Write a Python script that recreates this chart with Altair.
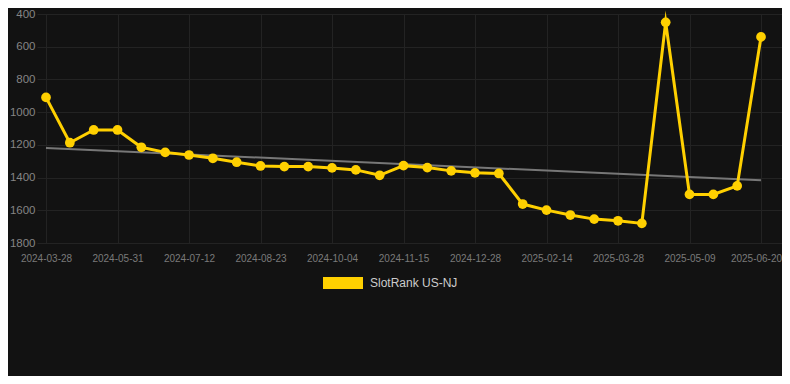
import altair as alt
import pandas as pd

dates = [
    "2024-03-28", "2024-04-19", "2024-05-10", "2024-05-31", "2024-06-14",
    "2024-06-28", "2024-07-12", "2024-07-26", "2024-08-09", "2024-08-23",
    "2024-09-06", "2024-09-20", "2024-10-04", "2024-10-18", "2024-11-01",
    "2024-11-15", "2024-11-29", "2024-12-13", "2024-12-28", "2025-01-17",
    "2025-01-31", "2025-02-14", "2025-02-28", "2025-03-14", "2025-03-28",
    "2025-04-11", "2025-04-25", "2025-05-09", "2025-05-23", "2025-06-06",
    "2025-06-20",
]
ranks = [
    910, 1187, 1109, 1109, 1215, 1246, 1262, 1282, 1306, 1329,
    1333, 1333, 1341, 1353, 1386, 1327, 1339, 1359, 1371, 1375,
    1562, 1599, 1629, 1654, 1664, 1680, 451, 1503, 1503, 1451,
    540,
]
trend_idx = [0, 30]
trend_vals = [1219, 1416]
y_ticks = [400, 600, 800, 1000, 1200, 1400, 1600, 1800]
x_ticks = [0, 3, 6, 9, 12, 15, 18, 21, 24, 27, 30]
series_name = "SlotRank US-NJ"

df = pd.DataFrame({"idx": list(range(len(ranks))), "date": dates, "rank": ranks,
                   "series": series_name})
tdf = pd.DataFrame({"idx": trend_idx, "rank": trend_vals})

label_expr = "[" + ",".join("'" + d + "'" for d in dates) + "][datum.value]"

x_enc = alt.X(
    "idx:Q",
    scale=alt.Scale(domain=[-0.378, 30.881], nice=False, zero=False),
    axis=alt.Axis(values=x_ticks, labelExpr=label_expr, title=None, ticks=False,
                  domain=False, labelFontSize=10, labelColor="#7a7a7a",
                  labelPadding=10, gridColor="#232323", labelOverlap=False,
                  labelOffset={"condition": {"test": "datum.value == 30", "value": -5},
                               "value": 0}),
)
y_enc = alt.Y(
    "rank:Q",
    scale=alt.Scale(domain=[400, 1800], reverse=True, nice=False, zero=False),
    axis=alt.Axis(values=y_ticks, format="d", title=None, ticks=False, domain=False,
                  labelFontSize=11.5, labelColor="#858585", labelPadding=2,
                  gridColor="#232323"),
)

trend = alt.Chart(tdf).mark_line(color="#777777", strokeWidth=2).encode(
    x=x_enc, y=y_enc)

line = alt.Chart(df).mark_line(color="#FFD000", strokeWidth=3, strokeJoin="miter",
                               strokeMiterLimit=10).encode(x=x_enc, y=y_enc)

pts = alt.Chart(df).mark_point(filled=True, size=95, opacity=1).encode(
    x=x_enc, y=y_enc,
    color=alt.Color("series:N", scale=alt.Scale(range=["#FFD000"]),
                    legend=alt.Legend(title=None, orient="none", legendX=286,
                                      legendY=249, symbolType="M-1,-0.3H1V0.3H-1Z",
                                      symbolSize=1600, symbolStrokeWidth=0,
                                      symbolOpacity=1, labelFontSize=12,
                                      labelColor="#cccccc", labelOffset=7,
                                      padding=0)),
)

chart = alt.layer(trend, line, pts).properties(
    width=745, height=229,
    autosize=alt.AutoSizeParams(type="none"),
    padding={"left": 29, "top": 6, "right": 0, "bottom": 133},
    background="#121212",
).configure(font="Liberation Sans").configure_view(stroke=None)

chart.save("out.html", embed_options={"renderer": "svg", "actions": False})
